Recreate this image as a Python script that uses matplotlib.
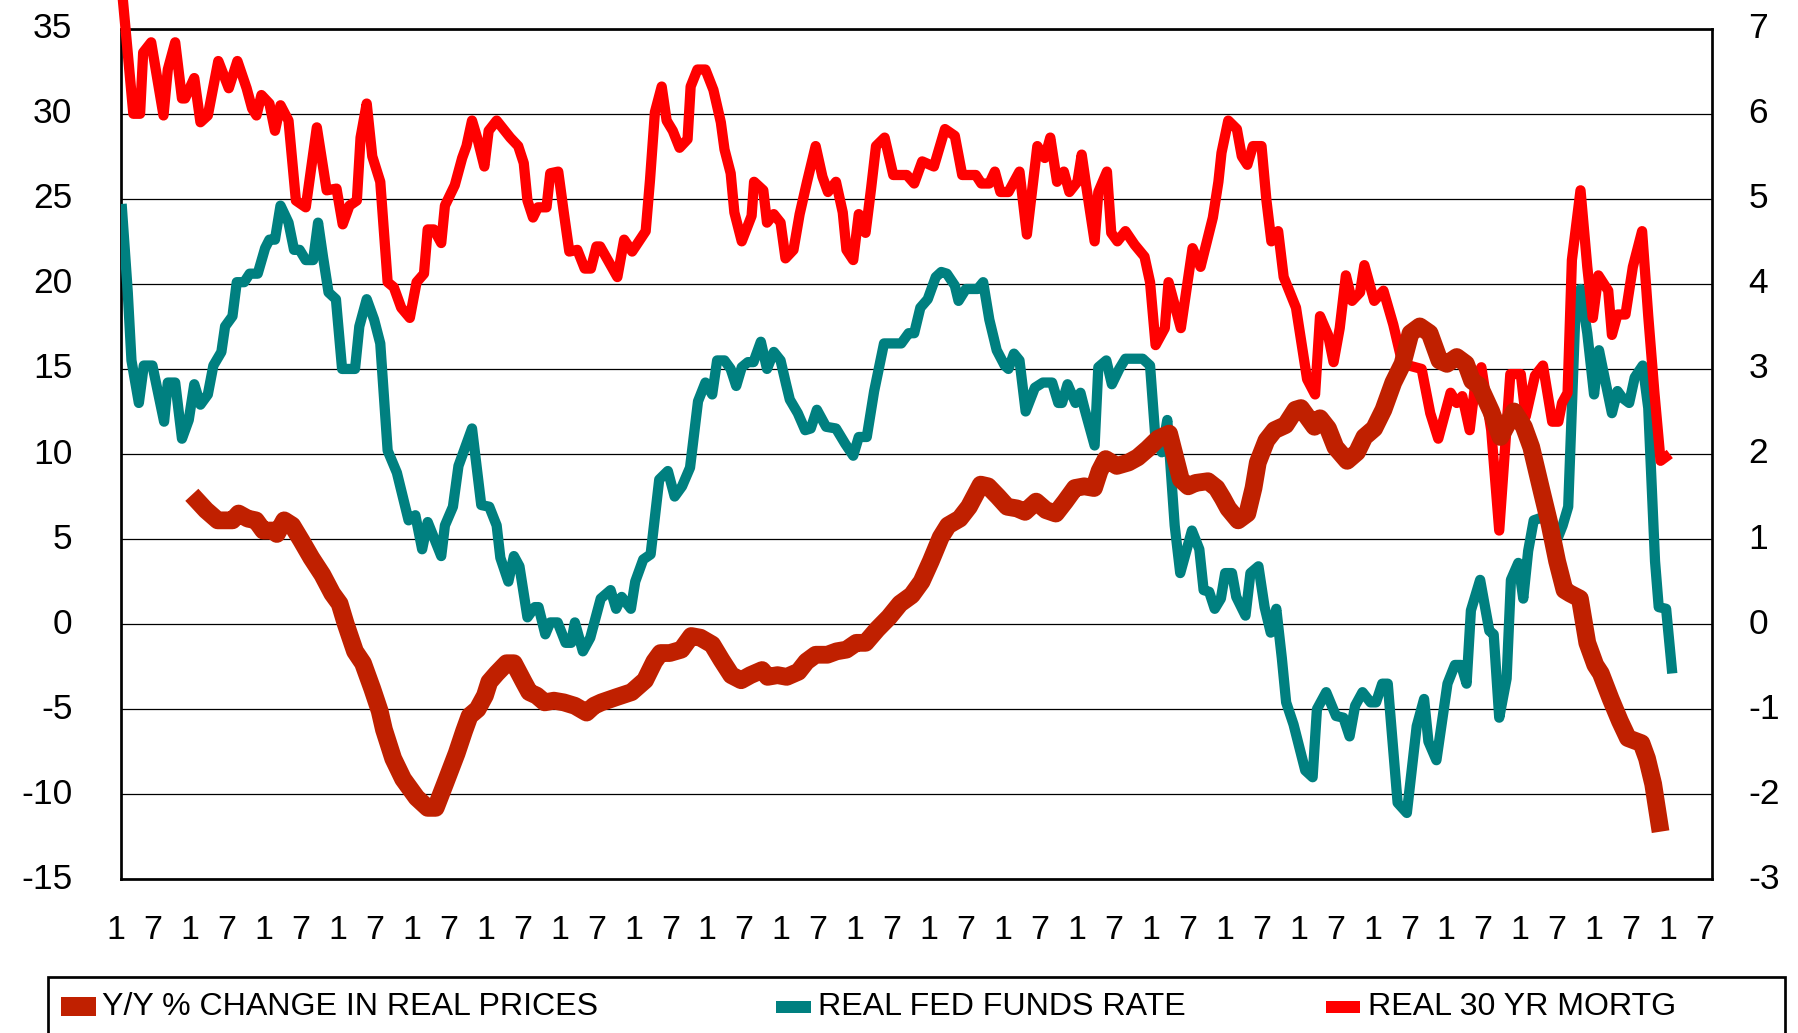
import matplotlib.pyplot as plt
from matplotlib.patches import Rectangle
from matplotlib.transforms import blended_transform_factory

plt.rcParams['font.family'] = ['Liberation Sans', 'DejaVu Sans']
plt.rcParams['axes.unicode_minus'] = False

# ---------------------------
# Data (x = month index from start of axis)
# ---------------------------
# Y/Y % change in real prices (left axis)
price_month = [11.5, 13.8, 15.7, 18.1, 19.1, 20.6, 21.9, 23.1, 24.7, 25.3,
               26.5, 27.8, 29.3, 30.9, 32.7, 34.3, 35.5, 36.5, 38.0, 39.3,
               40.8, 42.0, 42.7, 44.2, 45.8, 48.0, 49.8, 51.1, 52.6, 54.5,
               55.7, 56.6, 57.9, 59.1, 59.8, 61.0, 62.6, 63.8, 65.4, 66.3,
               67.5, 68.8, 70.3, 71.9, 73.7, 75.6, 76.8, 78.0, 80.4, 82.9,
               85.1, 86.6, 87.6, 89.1, 91.0, 92.6, 94.1, 96.0, 97.5, 99.1,
               100.7, 102.2, 104.1, 105.0, 106.6, 108.1, 110.0, 111.3, 112.8, 114.7,
               116.2, 117.8, 119.4, 120.9, 122.8, 124.7, 126.5, 128.4, 130.0, 131.5,
               133.1, 134.3, 136.2, 137.7, 139.6, 140.8, 142.4, 143.9, 145.5, 146.8,
               148.6, 150.2, 151.8, 153.3, 154.9, 156.4, 158.0, 158.9, 159.9, 161.7,
               163.6, 165.1, 166.7, 168.4, 170.2, 172.1, 173.3, 174.5, 176.5, 177.9,
               178.9, 179.8, 181.4, 182.9, 183.9, 184.6, 186.0, 187.3, 189.1, 190.7,
               191.6, 193.8, 194.7, 196.0, 197.2, 199.1, 200.7, 201.9, 203.5, 205.0,
               206.6, 208.1, 209.4, 210.9, 212.5, 214.1, 215.3, 216.9, 218.4, 219.4,
               220.6, 222.5, 224.0, 226.2, 227.8, 229.0, 230.7, 231.9, 233.2, 234.4,
               235.3, 236.9, 238.1, 239.4, 240.3, 241.9, 243.4, 244.7, 246.9, 247.8,
               248.8, 250.0]
price_yoy = [7.6, 6.7, 6.1, 6.1, 6.5, 6.2, 6.1, 5.5, 5.5, 5.3,
             6.1, 5.8, 4.9, 3.9, 2.9, 1.8, 1.2, 0.0, -1.6, -2.3,
             -3.8, -5.1, -6.2, -7.9, -9.1, -10.2, -10.8, -10.8, -9.4, -7.6,
             -6.3, -5.4, -5.0, -4.2, -3.4, -2.9, -2.3, -2.3, -3.4, -4.0,
             -4.2, -4.6, -4.5, -4.6, -4.8, -5.2, -4.8, -4.6, -4.3, -4.0,
             -3.3, -2.2, -1.7, -1.7, -1.5, -0.7, -0.8, -1.2, -2.1, -3.0,
             -3.3, -3.0, -2.7, -3.1, -3.0, -3.1, -2.8, -2.2, -1.8, -1.8,
             -1.6, -1.5, -1.1, -1.1, -0.3, 0.4, 1.2, 1.7, 2.5, 3.7,
             5.1, 5.8, 6.2, 6.9, 8.2, 8.1, 7.5, 6.9, 6.8, 6.6,
             7.2, 6.7, 6.5, 7.2, 8.0, 8.1, 8.0, 9.0, 9.7, 9.3,
             9.5, 9.8, 10.3, 10.9, 11.2, 8.5, 8.1, 8.3, 8.4, 8.0,
             7.4, 6.8, 6.1, 6.5, 8.0, 9.5, 10.8, 11.4, 11.7, 12.6,
             12.7, 11.6, 12.1, 11.5, 10.4, 9.6, 10.1, 11.0, 11.5, 12.6,
             14.2, 15.3, 17.1, 17.5, 17.1, 15.5, 15.3, 15.7, 15.3, 14.3,
             14.0, 12.5, 11.0, 12.5, 11.6, 10.4, 7.8, 6.0, 3.7, 2.0,
             1.8, 1.5, -1.1, -2.4, -2.9, -4.4, -5.7, -6.7, -7.0, -7.9,
             -9.4, -12.2]

# Real fed funds rate (right axis)
ffr_month = [0.1, 1.1, 1.7, 2.9, 3.7, 5.1, 7.0, 7.6, 8.8, 9.9,
             11.0, 11.9, 12.9, 14.1, 15.0, 16.3, 16.9, 18.1, 18.8, 20.0,
             20.9, 22.2, 23.4, 24.1, 25.0, 25.9, 27.2, 28.1, 29.0, 30.0,
             31.2, 32.0, 32.8, 33.7, 34.9, 35.9, 38.0, 38.7, 39.9, 41.1,
             42.1, 43.3, 44.8, 46.7, 47.8, 48.9, 49.8, 52.0, 52.6, 53.9,
             54.8, 57.0, 58.5, 59.8, 61.0, 61.6, 62.9, 63.8, 64.7, 66.0,
             67.2, 67.8, 68.9, 69.7, 70.9, 72.2, 73.1, 73.7, 75.0, 76.2,
             77.9, 79.5, 80.4, 81.3, 82.8, 83.5, 84.8, 86.0, 87.4, 88.8,
             89.9, 91.1, 92.4, 93.7, 94.9, 96.0, 96.8, 98.0, 99.0, 99.9,
             100.8, 101.8, 102.7, 103.9, 104.9, 106.0, 107.1, 108.0, 108.6, 109.9,
             111.1, 112.0, 113.0, 114.5, 116.1, 117.6, 118.9, 119.8, 121.1, 122.3,
             123.9, 126.7, 127.9, 128.8, 129.8, 131.0, 132.3, 133.2, 134.1, 135.4,
             136.0, 137.2, 139.1, 140.0, 141.0, 142.2, 143.5, 144.1, 145.0, 145.9,
             146.9, 148.4, 149.7, 151.2, 152.2, 152.8, 153.7, 155.0, 155.8, 156.5,
             158.1, 158.7, 160.0, 160.9, 162.1, 163.1, 165.9, 167.1, 168.0, 169.0,
             169.9, 171.1, 172.0, 173.9, 175.1, 175.8, 176.7, 177.6, 178.6, 179.3,
             180.4, 181.1, 182.6, 183.4, 184.7, 185.7, 186.7, 187.6, 188.5, 189.2,
             190.4, 192.3, 193.5, 194.2, 195.7, 197.3, 198.5, 199.5, 200.4, 201.6,
             202.9, 203.8, 204.8, 205.7, 207.3, 208.8, 210.4, 211.6, 212.3, 213.6,
             215.4, 216.6, 217.6, 218.5, 219.2, 220.7, 222.2, 222.9, 223.8, 225.0,
             225.7, 226.9, 227.7, 228.5, 229.4, 231.0, 232.8, 234.1, 235.0, 236.2,
             237.0, 238.1, 239.2, 240.0, 240.9, 242.1, 243.0, 243.8, 244.9, 245.8,
             247.1, 248.0, 249.1, 249.7, 250.9, 251.9]
ffr_real = [4.94, 3.9, 3.1, 2.6, 3.04, 3.04, 2.38, 2.84, 2.84, 2.18,
            2.4, 2.82, 2.58, 2.7, 3.04, 3.2, 3.5, 3.62, 4.02, 4.02,
            4.12, 4.12, 4.42, 4.52, 4.52, 4.92, 4.72, 4.4, 4.4, 4.28,
            4.28, 4.72, 4.32, 3.9, 3.82, 3.0, 3.0, 3.5, 3.82, 3.58,
            3.3, 2.04, 1.78, 1.22, 1.28, 0.88, 1.2, 0.8, 1.16, 1.38,
            1.86, 2.3, 1.4, 1.38, 1.16, 0.78, 0.5, 0.8, 0.68, 0.08,
            0.2, 0.2, -0.12, 0.02, 0.02, -0.22, -0.22, 0.02, -0.32, -0.16,
            0.3, 0.4, 0.18, 0.32, 0.18, 0.5, 0.76, 0.82, 1.7, 1.8,
            1.5, 1.62, 1.84, 2.62, 2.84, 2.7, 3.1, 3.1, 3.0, 2.8,
            3.02, 3.08, 3.08, 3.32, 3.0, 3.2, 3.1, 2.82, 2.64, 2.48,
            2.28, 2.3, 2.52, 2.32, 2.3, 2.12, 1.98, 2.2, 2.2, 2.74,
            3.3, 3.3, 3.42, 3.42, 3.72, 3.82, 4.08, 4.14, 4.12, 3.98,
            3.8, 3.94, 3.94, 4.02, 3.58, 3.22, 3.04, 3.0, 3.18, 3.1,
            2.5, 2.78, 2.84, 2.84, 2.6, 2.6, 2.82, 2.6, 2.72, 2.52,
            2.1, 3.02, 3.1, 2.82, 3.0, 3.12, 3.12, 3.04, 2.16, 2.02,
            2.4, 1.16, 0.6, 1.1, 0.88, 0.4, 0.38, 0.18, 0.3, 0.6,
            0.6, 0.32, 0.1, 0.6, 0.68, 0.2, -0.1, 0.18, -0.4, -0.92,
            -1.18, -1.72, -1.8, -1.0, -0.8, -1.08, -1.1, -1.32, -0.96, -0.8,
            -0.92, -0.92, -0.7, -0.7, -2.1, -2.22, -1.2, -0.88, -1.38, -1.6,
            -0.7, -0.48, -0.48, -0.7, 0.16, 0.52, -0.08, -0.12, -1.1, -0.64,
            0.52, 0.72, 0.3, 0.86, 1.22, 1.26, 0.92, 1.16, 1.38, 3.72,
            3.94, 3.42, 2.7, 3.22, 2.9, 2.48, 2.74, 2.66, 2.6, 2.9,
            3.04, 2.54, 0.74, 0.2, 0.18, -0.58]

# Real 30 yr mortgage rate (right axis)
mort_month = [0.0, 2.0, 3.1, 3.6, 4.9, 6.9, 7.6, 8.8, 9.9, 10.4,
              11.9, 12.9, 14.1, 15.8, 17.5, 18.9, 20.4, 21.3, 22.0, 22.8,
              24.1, 25.0, 25.9, 27.2, 28.4, 30.0, 31.8, 33.4, 35.0, 36.0,
              37.1, 38.3, 38.9, 39.9, 40.8, 42.1, 43.3, 44.3, 45.5, 46.9,
              48.0, 49.2, 49.8, 50.8, 52.0, 52.6, 54.2, 55.4, 56.1, 57.0,
              57.9, 59.0, 59.7, 61.0, 63.2, 64.5, 65.4, 66.0, 66.9, 67.7,
              69.1, 69.7, 71.0, 71.9, 72.8, 74.1, 75.3, 76.3, 77.2, 77.8,
              80.6, 81.7, 83.0, 85.2, 85.9, 86.7, 87.8, 88.6, 89.6, 90.7,
              92.0, 92.5, 93.6, 94.9, 96.2, 97.4, 98.0, 99.0, 99.6, 100.8,
              102.4, 102.8, 104.3, 104.9, 106.0, 107.1, 107.9, 109.2, 110.2, 111.4,
              112.8, 113.9, 114.8, 116.1, 117.2, 117.8, 118.9, 119.8, 120.9, 121.8,
              122.6, 124.0, 125.4, 127.6, 128.8, 130.1, 132.0, 133.8, 135.4, 136.6,
              138.8, 139.7, 141.0, 141.9, 142.8, 144.1, 145.9, 147.1, 148.8, 150.0,
              150.9, 152.0, 153.1, 154.0, 155.3, 156.0, 156.8, 158.1, 158.7, 160.1,
              160.8, 161.8, 163.1, 164.6, 166.2, 167.1, 168.0, 169.5, 170.1, 172.1,
              174.0, 175.3, 177.3, 178.2, 178.7, 179.8, 181.2, 182.0, 182.9, 183.8,
              185.2, 186.0, 186.8, 187.9, 188.8, 190.8, 192.6, 193.9, 194.7, 196.0,
              196.9, 197.9, 198.9, 199.9, 201.2, 201.9, 203.5, 205.0, 206.6, 208.1,
              211.2, 212.6, 213.9, 215.9, 216.9, 217.8, 219.0, 220.0, 220.9, 222.5,
              223.8, 225.6, 227.3, 228.1, 229.6, 230.9, 232.4, 233.4, 234.0, 234.9,
              235.6, 237.0, 238.1, 239.0, 239.9, 241.5, 242.1, 243.0, 244.3, 245.5,
              247.0, 248.0, 249.0, 250.0, 251.5]
mort_real = [7.58, 6.0, 6.0, 6.72, 6.84, 5.98, 6.52, 6.84, 6.18, 6.18,
             6.42, 5.9, 5.98, 6.62, 6.3, 6.62, 6.3, 6.06, 5.98, 6.22,
             6.12, 5.8, 6.1, 5.92, 4.98, 4.9, 5.84, 5.1, 5.12, 4.7,
             4.92, 4.98, 5.72, 6.12, 5.5, 5.2, 4.02, 3.96, 3.72, 3.6,
             4.02, 4.12, 4.64, 4.64, 4.48, 4.92, 5.16, 5.48, 5.62, 5.92,
             5.7, 5.38, 5.8, 5.92, 5.72, 5.62, 5.42, 4.98, 4.78, 4.9,
             4.9, 5.3, 5.32, 4.84, 4.38, 4.4, 4.18, 4.18, 4.44, 4.44,
             4.08, 4.52, 4.38, 4.62, 5.22, 6.02, 6.32, 5.92, 5.8, 5.6,
             5.7, 6.32, 6.52, 6.52, 6.28, 5.9, 5.58, 5.3, 4.84, 4.5,
             4.8, 5.2, 5.1, 4.72, 4.82, 4.72, 4.3, 4.4, 4.82, 5.2,
             5.62, 5.26, 5.08, 5.2, 4.84, 4.4, 4.28, 4.82, 4.6, 5.12,
             5.62, 5.72, 5.28, 5.28, 5.18, 5.44, 5.38, 5.82, 5.74, 5.28,
             5.28, 5.18, 5.18, 5.32, 5.08, 5.08, 5.32, 4.58, 5.62, 5.48,
             5.72, 5.2, 5.32, 5.08, 5.2, 5.52, 5.12, 4.5, 5.08, 5.32,
             4.6, 4.5, 4.62, 4.46, 4.32, 4.02, 3.28, 3.48, 4.02, 3.48,
             4.42, 4.2, 4.78, 5.2, 5.54, 5.92, 5.82, 5.5, 5.4, 5.62,
             5.62, 4.98, 4.5, 4.62, 4.08, 3.72, 2.88, 2.7, 3.62, 3.4,
             3.08, 3.48, 4.1, 3.8, 3.9, 4.22, 3.8, 3.92, 3.52, 3.06,
             3.0, 2.48, 2.18, 2.72, 2.6, 2.68, 2.28, 2.88, 3.02, 2.28,
             1.1, 2.94, 2.94, 2.44, 2.92, 3.04, 2.38, 2.38, 2.6, 2.72,
             4.28, 5.1, 4.2, 3.6, 4.1, 3.92, 3.4, 3.64, 3.64, 4.2,
             4.62, 3.62, 2.72, 1.92, 2.0]

tick_text = ['1', '7'] * 22
tick_month = [6 * k - 0.8 for k in range(44)]

legend_labels = ['Y/Y % CHANGE IN REAL PRICES', 'REAL FED FUNDS RATE', 'REAL 30 YR MORTG']

C_PRICE = '#C02000'
C_FFR = '#008080'
C_MORT = '#FF0000'

# ---------------------------
# Figure / axes layout (pixels -> figure fraction)
# ---------------------------
W, H = 1798, 1033
fx = lambda x: x / W
fy = lambda y: 1 - y / H

fig = plt.figure(figsize=(W / 100, H / 100), dpi=100)
ax = fig.add_axes([fx(121), fy(879.3), fx(1712.3) - fx(121), fy(28.7) - fy(879.3)])
axl = ax.twinx()   # price change, drawn on top

# right-hand scale (rates)
ax.set_xlim(0, 258.4)
ax.set_ylim(-3, 7)
ax.set_yticks(range(-3, 8))
ax.set_xticks([])
ax.yaxis.tick_right()
ax.yaxis.set_label_position('right')
ax.tick_params(axis='y', length=0, pad=26, labelsize=25.5)
ax.grid(axis='y', color='black', lw=0.9)
for s in ax.spines.values():
    s.set_linewidth(1.95)
    s.set_color('black')

ax.plot(ffr_month, ffr_real, color=C_FFR, lw=7.4, zorder=3,
        solid_joinstyle='round', solid_capstyle='butt')
ax.plot(mort_month, mort_real, color=C_MORT, lw=7.4, zorder=4, clip_on=False,
        solid_joinstyle='round', solid_capstyle='butt')

# left-hand scale (price change)
axl.yaxis.tick_left()
axl.yaxis.set_label_position('left')
axl.set_ylim(-15, 35)
axl.set_yticks(range(-15, 36, 5))
axl.tick_params(axis='y', length=0, pad=35, labelsize=25.5)
for s in axl.spines.values():
    s.set_visible(False)
axl.plot(price_month, price_yoy, color=C_PRICE, lw=12.8,
         solid_joinstyle='round', solid_capstyle='butt')

# tick numbers sit slightly above their gridlines, as in the original
for lab in ax.get_yticklabels() + axl.get_yticklabels():
    lab.set_verticalalignment('center')

# x labels: month 1 / 7 of each year
trans = blended_transform_factory(ax.transData, ax.transAxes)
for m, t in zip(tick_month, tick_text):
    ax.text(m, -(939.3 - 879.3) / 850.6, t, transform=trans, ha='center',
            va='baseline', fontsize=24.5)

# ---------------------------
# Legend box along the bottom
# ---------------------------
fig.patches.append(Rectangle((fx(48.3), fy(1080)), fx(1785) - fx(48.3), fy(976.7) - fy(1080),
                             transform=fig.transFigure, fill=False, lw=1.95, ec='black'))
swatches = [(61, 35, 19, C_PRICE, 101.7), (776, 34.5, 12, C_FFR, 818.1),
            (1326, 34, 12, C_MORT, 1368.3)]
for (x0, w, h, c, tx), lab in zip(swatches, legend_labels):
    fig.patches.append(Rectangle((fx(x0), fy(1006.5 + h / 2)), fx(w), h / H,
                                 transform=fig.transFigure, fc=c, ec='none'))
    fig.text(fx(tx), fy(1015), lab, fontsize=23.1, ha='left', va='baseline')

fig.savefig('out.png', dpi=100)
